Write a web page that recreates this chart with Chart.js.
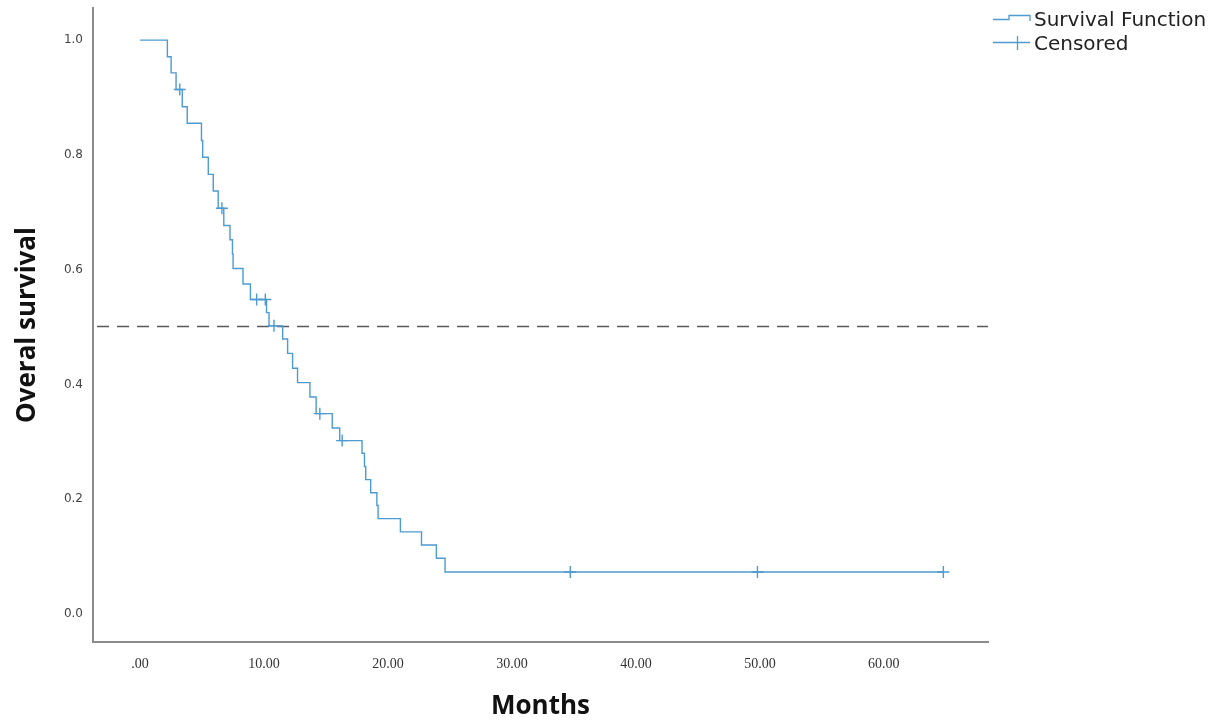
<!DOCTYPE html>
<html>
<head>
<meta charset="utf-8">
<script src="https://cdn.jsdelivr.net/npm/chart.js@4"></script>
<style>
  html, body { margin: 0; padding: 0; background: #fff; }
  #wrap { width: 1215px; height: 722px; position: relative; }
</style>
</head>
<body>
<div id="wrap"><canvas id="km"></canvas></div>
<script>
// Kaplan-Meier steps: month of each event and survival after it
const eventMonths = [0, 2.2, 2.5, 2.9, 3.4, 3.8, 4.95, 5.05, 5.5, 5.9, 6.3, 6.75, 7.25, 7.45, 7.5,
  8.3, 8.9, 10.2, 10.4, 11.5, 11.9, 12.3, 12.7, 13.7, 14.2, 15.5, 16.1,
  17.9, 18.1, 18.2, 18.6, 19.1, 19.2, 21.0, 22.7, 23.9, 24.6];
const survival = [1.0, 0.971, 0.943, 0.914, 0.884, 0.855, 0.825, 0.796, 0.766, 0.737, 0.707, 0.677, 0.652, 0.627, 0.602,
  0.575, 0.548, 0.525, 0.502, 0.479, 0.454, 0.428, 0.403, 0.378, 0.349, 0.324, 0.302,
  0.280, 0.257, 0.234, 0.211, 0.189, 0.166, 0.143, 0.120, 0.097, 0.073];

// censored cases
const censorMonths = [3.2, 6.6, 9.4, 10.1, 10.8, 14.5, 16.3, 34.7, 49.8, 64.8];
const censorSurvival = [0.914, 0.707, 0.548, 0.548, 0.502, 0.349, 0.302, 0.073, 0.073, 0.073];

const xTicks = [0, 10, 20, 30, 40, 50, 60];
const yTicks = [0, 0.2, 0.4, 0.6, 0.8, 1.0];
const medianLevel = 0.5;

const BLUE = '#4d9bd0';

const curve = eventMonths.map((m, i) => ({ x: m, y: survival[i] }));
// extend the last step out to the last follow-up
curve.push({ x: censorMonths[censorMonths.length - 1], y: censorSurvival[censorSurvival.length - 1] });
const censored = censorMonths.map((m, i) => ({ x: m, y: censorSurvival[i] }));

const medianLine = {
  id: 'medianLine',
  beforeDatasetsDraw(chart) {
    const { ctx, chartArea, scales } = chart;
    const y = Math.round(scales.y.getPixelForValue(medianLevel)) - 0.5;
    ctx.save();
    ctx.strokeStyle = '#5a5a5a';
    ctx.lineWidth = 1.5;
    ctx.setLineDash([12, 8]);
    ctx.beginPath();
    ctx.moveTo(chartArea.left + 4, y);
    ctx.lineTo(chartArea.right, y);
    ctx.stroke();
    ctx.restore();
  }
};

const kmLegend = {
  id: 'kmLegend',
  afterDraw(chart) {
    const ctx = chart.ctx;
    ctx.save();
    ctx.strokeStyle = BLUE;
    ctx.lineWidth = 1.3;
    // step glyph
    ctx.beginPath();
    ctx.moveTo(993, 19.5);
    ctx.lineTo(1009, 19.5);
    ctx.lineTo(1009, 15.5);
    ctx.lineTo(1030, 15.5);
    ctx.lineTo(1030, 21);
    ctx.stroke();
    // cross glyph
    ctx.beginPath();
    ctx.moveTo(993, 42.5);
    ctx.lineTo(1030, 42.5);
    ctx.moveTo(1017.5, 36);
    ctx.lineTo(1017.5, 50);
    ctx.stroke();
    ctx.fillStyle = '#222';
    ctx.font = '20px "DejaVu Sans"';
    ctx.textBaseline = 'middle';
    ctx.textAlign = 'left';
    ctx.fillText('Survival Function', 1034, 21);
    ctx.fillText('Censored', 1034, 45);
    ctx.restore();
  }
};

new Chart(document.getElementById('km'), {
  type: 'scatter',
  data: {
    datasets: [
      {
        label: 'Survival Function',
        data: curve,
        showLine: true,
        stepped: 'before',
        borderColor: BLUE,
        borderWidth: 1.4,
        pointRadius: 0
      },
      {
        label: 'Censored',
        data: censored,
        pointStyle: 'cross',
        pointRadius: 6,
        borderColor: BLUE,
        borderWidth: 1.4,
        showLine: false
      }
    ]
  },
  options: {
    responsive: true,
    maintainAspectRatio: false,
    animation: false,
    layout: { padding: { top: 8, right: 227, left: 0, bottom: 0 } },
    plugins: { legend: { display: false }, tooltip: { enabled: false } },
    scales: {
      x: {
        type: 'linear',
        min: -3.8,
        max: 68.4,
        afterFit: s => { s.height = 80; s.paddingLeft = 0; s.paddingRight = 0; },
        afterBuildTicks: s => { s.ticks = xTicks.map(v => ({ value: v })); },
        grid: { display: false, drawTicks: false },
        border: { color: '#8c8c8c', width: 2 },
        ticks: {
          padding: 14,
          color: '#333',
          font: { family: '"Liberation Serif"', size: 14 },
          callback: v => (v === 0 ? '.00' : v.toFixed(2))
        },
        title: {
          display: true,
          text: 'Months',
          color: '#111',
          font: { family: '"Open Sans"', size: 26, weight: 'bold' },
          padding: { top: 0, bottom: 0 }
        }
      },
      y: {
        type: 'linear',
        min: -0.049,
        max: 1.056,
        afterFit: s => { s.width = 93; s.paddingTop = 0; s.paddingBottom = 0; },
        afterBuildTicks: s => { s.ticks = yTicks.map(v => ({ value: v })); },
        grid: { display: false, drawTicks: false },
        border: { color: '#8c8c8c', width: 2 },
        ticks: {
          padding: 10,
          color: '#444',
          font: { family: '"DejaVu Sans"', size: 12 },
          callback: v => v.toFixed(1)
        },
        title: {
          display: true,
          text: 'Overal survival',
          color: '#111',
          font: { family: '"Open Sans"', size: 26, weight: 'bold' },
          padding: { top: 12, bottom: 0 }
        }
      }
    }
  },
  plugins: [medianLine, kmLegend]
});
</script>
</body>
</html>
